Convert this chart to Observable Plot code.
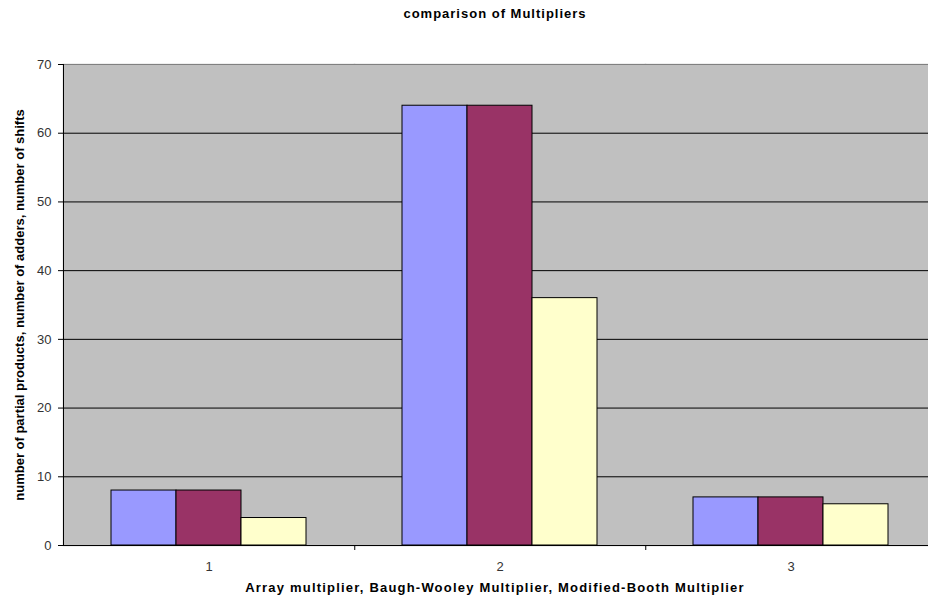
<!DOCTYPE html>
<html><head><meta charset="utf-8">
<script src="https://cdn.jsdelivr.net/npm/d3@7"></script>
<script src="https://cdn.jsdelivr.net/npm/@observablehq/plot@0.6"></script>
<style>
body{margin:0;background:#fff;font-family:"Liberation Sans",Arial,sans-serif;width:928px;height:598px;overflow:hidden}
#title{height:30px;line-height:28px;font-weight:bold;font-size:13px;letter-spacing:1px;padding-left:62px;text-align:center;color:#000}
#xlabel{height:20px;line-height:20px;font-weight:bold;font-size:13px;letter-spacing:1.2px;padding-left:62px;text-align:center;color:#000}
svg{display:block}
</style></head><body>
<div id="title">comparison of Multipliers</div>
<div id="chart"></div>
<div id="xlabel">Array multiplier, Baugh-Wooley Multiplier, Modified-Booth Multiplier</div>
<script>
const groups = ["1", "2", "3"];
const series = ["partial products", "adders", "shifts"];
const partialProducts = [8, 64, 7];
const adders = [8, 64, 7];
const shifts = [4, 36, 6];
const colors = ["#9999FF", "#993366", "#FFFFCC"];
const yTicks = [0, 10, 20, 30, 40, 50, 60, 70];
const yLabel = "number of partial products, number of adders, number of shifts";

const data = groups.flatMap((g, i) => [
  {group: g, series: series[0], value: partialProducts[i]},
  {group: g, series: series[1], value: adders[i]},
  {group: g, series: series[2], value: shifts[i]}
]);

const W = 928, ML = 62, MR = -8.5;
const band = (W - ML - MR) / groups.length;

const plot = Plot.plot({
  width: W, height: 548,
  marginTop: 34, marginBottom: 33, marginLeft: ML, marginRight: MR,
  style: {fontFamily: "Liberation Sans, Arial, sans-serif", fontSize: "13px", background: "white", color: "#000", overflow: "hidden"},
  fx: {domain: groups, padding: 0},
  x: {domain: series, paddingInner: 0, paddingOuter: 0.73, axis: null},
  y: {domain: [0, 70]},
  color: {domain: series, range: colors},
  marks: [
    Plot.frame({fill: "#C0C0C0", stroke: "#C0C0C0", strokeWidth: 1.5}),
    Plot.gridY(yTicks, {stroke: "#000", strokeOpacity: 1, strokeWidth: 1}),
    Plot.ruleY([70], {stroke: "#808080"}),
    Plot.rectY(data, {fx: "group", x: "series", y: "value", fill: "series", stroke: "#000", strokeWidth: 1, inset: 0}),
    Plot.ruleY([0], {stroke: "#000"}),
    Plot.frame({anchor: "left", stroke: "#000", facetAnchor: "left"}),
    Plot.axisY(yTicks, {tickSize: 5, tickPadding: 7, label: null, fill: "#333"}),
    Plot.text([yLabel], {frameAnchor: "left", textAnchor: "middle", dx: -44, rotate: -90, fontWeight: "bold", fontSize: 13, letterSpacing: "0.8px", fill: "#000", facetAnchor: "left"}),
    Plot.axisFx({anchor: "bottom", tickSize: 0, tickPadding: 16, label: null, fill: "#333"}),
    Plot.axisFx({anchor: "bottom", tickSize: 5, text: null, label: null, dx: band / 2})
  ]
});
document.getElementById("chart").appendChild(plot);
</script>
</body></html>
